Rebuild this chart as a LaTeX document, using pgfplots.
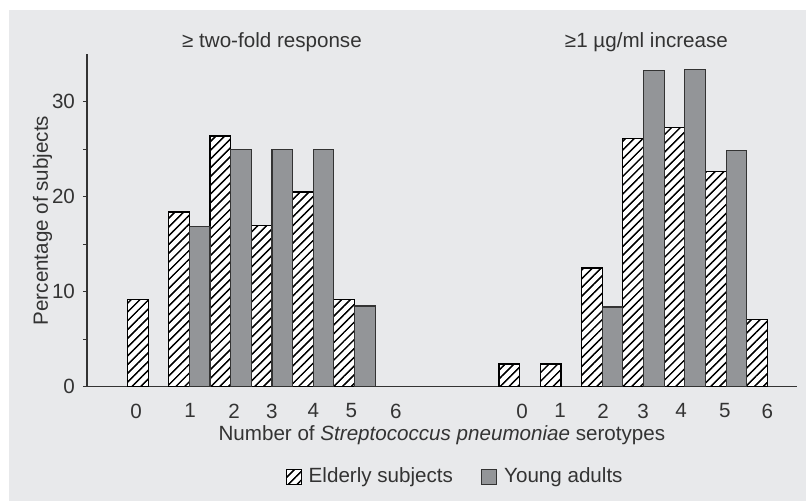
\documentclass[border=0pt]{standalone}
\usepackage{pgfplots}
\pgfplotsset{compat=1.18}
\usepackage{fontspec}
\setmainfont{Liberation Sans}
\usetikzlibrary{patterns.meta}
\definecolor{bggray}{HTML}{E8E9EB}
\definecolor{bargray}{HTML}{939598}
\definecolor{inkgray}{HTML}{333333}
\newcommand{\chartfont}{\fontsize{10.3}{12}\selectfont}
\begin{document}
\begin{tikzpicture}
\useasboundingbox (-43.5pt,-57.15pt) rectangle (359.5pt,193.35pt);
\fill[white] (-43.5pt,-57.15pt) rectangle (359.5pt,193.35pt);
\fill[bggray] (-39pt,-57.15pt) rectangle (359.5pt,188.35pt);
\begin{axis}[
    at={(0,0)}, anchor=south west,
    scale only axis,
    width=354.85pt, height=166.2pt,
    xmin=-1.48, xmax=15.71,
    ymin=0, ymax=35,
    axis x line*=bottom, axis y line*=left,
    axis line style={inkgray, line width=0.65pt},
    ybar, bar width=0.5,
    xtick={-0.29,1.02,2.08,3,4,4.92,6,9.06,9.98,11.02,11.99,12.91,13.97,15},
    xticklabels={0,1,2,3,4,5,6,0,1,2,3,4,5,6},
    xtick style={draw=none},
    ytick={0,10,20,30},
    minor ytick={5,15,25},
    tick align=outside,
    major tick length=2pt, minor tick length=2pt,
    ytick style={inkgray, line width=0.6pt},
    /pgf/number format/assume math mode=true,
    tick label style={font=\chartfont, text=inkgray},
    xticklabel style={yshift=-3pt},
    yticklabel style={xshift=-0.5pt},
    ylabel={Percentage of subjects},
    ylabel style={at={(axis description cs:-0.0625,0.5)}, anchor=center},
    xlabel={Number of \textit{Streptococcus pneumoniae} serotypes},
    xlabel style={at={(axis description cs:0.5,-0.1453)}, anchor=center},
    label style={font=\chartfont, text=inkgray},
    clip=false,
    legend columns=2,
    legend style={at={(0.52,-0.2708)}, anchor=center, draw=none, fill=none,
        font=\chartfont, text=inkgray,
        /tikz/every odd column/.append style={column sep=1.5pt},
        /tikz/every even column/.append style={column sep=12pt}},
    legend image code/.code={\draw[#1, bar shift=0pt] (0pt,-3.75pt) rectangle (7.5pt,3.75pt);},
]
% elderly subjects
\addplot[bar shift=-0.25, draw=black, line width=0.6pt, preaction={fill=white},
    pattern={Lines[angle=45,distance=3.1pt,line width=0.6pt]}, pattern color=black,
    postaction={draw=black, line width=0.6pt}]
    coordinates {
    (0,9.2) (1,18.4) (2,26.4) (3,17.0) (4,20.5) (5,9.2)
    (9,2.4) (10,2.4) (11,12.5) (12,26.1) (13,27.3) (14,22.7) (15,7.1)
};
% young adults
\addplot[bar shift=0.25, draw=inkgray, line width=0.6pt, fill=bargray]
    coordinates {
    (1,16.9) (2,25.0) (3,25.0) (4,25.0) (5,8.5)
    (11,8.4) (12,33.3) (13,33.4) (14,24.9)
};
\legend{Elderly subjects, Young adults}
\node[font=\chartfont, text=inkgray] at (axis cs:3,36.3) {≥ two-fold response};
\node[font=\chartfont, text=inkgray] at (axis cs:12.07,36.3) {≥1 µg/ml increase};
\end{axis}
\end{tikzpicture}
\end{document}
